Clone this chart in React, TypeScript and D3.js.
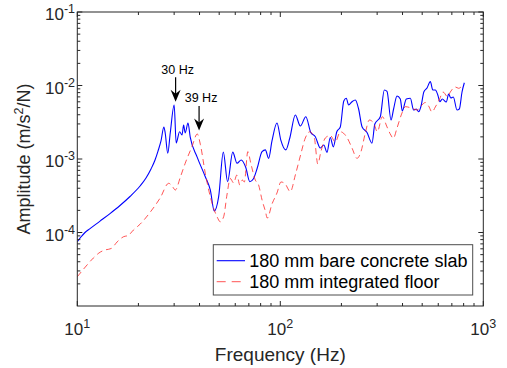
import React from "react";
import * as d3 from "d3";

const freqBlue = [10, 10.42, 10.91, 11.55, 12.94, 14.49, 16.23, 18.18, 20.37, 21.8, 23.07, 24.15, 24.98, 25.84, 26.7, 27.1, 27.9, 28.7, 30, 30.7, 31.9, 32.8, 33.4, 34.0, 35.1, 36.0, 38.9, 42.7, 45.2, 47.3, 49.7, 52.4, 55.0, 58.3, 61.2, 64.2, 67.6, 70.8, 73.6, 77.0, 81.3, 84.4, 87.6, 91.0, 96.3, 100.6, 106.4, 111.4, 118.6, 125.5, 133.6, 141.3, 148.8, 157.4, 163.8, 169.8, 176.3, 182.4, 189.8, 197.5, 205.5, 211.4, 217.0, 225.6, 234.2, 243.1, 252.7, 267.4, 282.9, 292.2, 310.9, 325.4, 335.5, 351.1, 361.5, 375.8, 390.1, 399.1, 417.6, 437.0, 453.7, 467.7, 480.1, 495.0, 509.3, 528.2, 548.3, 564.1, 580.2, 597.0, 610.7, 628.2, 657.4, 674.8, 691.8, 711.7, 742.2, 761.9, 785.6, 806.4];
const ampBlue = [7.5e-5, 8.69e-5, 1.0e-4, 1.13e-4, 1.43e-4, 1.81e-4, 2.33e-4, 3.09e-4, 4.29e-4, 5.51e-4, 7.31e-4, 9.69e-4, 1.28e-3, 1.76e-3, 2.73e-3, 2.26e-3, 1.2e-3, 2.26e-3, 5.43e-3, 1.65e-3, 2.35e-3, 2.12e-3, 2.9e-3, 2.26e-3, 3.09e-3, 1.99e-3, 1.07e-3, 5.74e-4, 3.79e-4, 1.96e-4, 3.07e-4, 1.24e-3, 4.91e-4, 1.24e-3, 8.74e-4, 9.69e-4, 7.66e-4, 4.91e-4, 5.34e-4, 7.54e-4, 1.26e-3, 1.33e-3, 1.02e-3, 1.76e-3, 3.09e-3, 1.81e-3, 1.33e-3, 1.93e-3, 3.97e-3, 2.81e-3, 3.76e-3, 2.29e-3, 2.01e-3, 1.41e-3, 1.55e-3, 1.23e-3, 1.96e-3, 1.46e-3, 2.35e-3, 2.73e-3, 6.15e-3, 6.7e-3, 5.43e-3, 6.02e-3, 6.35e-3, 4.79e-3, 2.75e-3, 2.29e-3, 1.64e-3, 2.99e-3, 3.76e-3, 8.69e-3, 8.29e-3, 3.39e-3, 4.79e-3, 7.2e-3, 6.55e-3, 4.5e-3, 6.55e-3, 6.7e-3, 4.64e-3, 4.79e-3, 4.4e-3, 5.43e-3, 8.16e-3, 9.25e-3, 1.13e-2, 8.69e-3, 8.69e-3, 7.43e-3, 6.02e-3, 6.55e-3, 5.96e-3, 7.66e-3, 6.76e-3, 6.97e-3, 4.64e-3, 4.79e-3, 8.16e-3, 1.09e-2];

const freqRed = [10, 10.95, 12.0, 13.0, 13.7, 14.7, 15.7, 16.9, 17.8, 18.9, 20.4, 22.9, 25.6, 28.2, 29.3, 30.4, 32.2, 34.0, 36.7, 39.0, 40.4, 42.7, 45.2, 48.8, 50.6, 52.6, 54.6, 56.7, 58.9, 61.1, 63.2, 65.0, 66.5, 69.2, 71.5, 75.3, 78.2, 81.3, 84.4, 86.3, 91.0, 96.3, 100.8, 105.8, 112.0, 118.6, 125.5, 132.8, 139.8, 147.1, 153.0, 158.3, 166.6, 176.3, 186.6, 197.5, 213.1, 225.6, 238.7, 249.3, 262.3, 274.5, 288.9, 300.5, 318.1, 335.5, 350.3, 360.4, 375.8, 397.7, 413.0, 445.5, 471.5, 498.9, 518.0, 537.8, 558.9, 580.2, 609.3, 633.3, 667.1, 687.9, 728.1, 755.8, 785.6];
const ampRed = [2.5e-5, 3.39e-5, 4.5e-5, 5.43e-5, 5.78e-5, 6.06e-5, 7.43e-5, 8.77e-5, 9.1e-5, 1.08e-4, 1.3e-4, 1.9e-4, 2.95e-4, 4.67e-4, 4.29e-4, 3.79e-4, 5.69e-4, 8.74e-4, 1.47e-3, 2.19e-3, 1.57e-3, 6.39e-4, 3.07e-4, 1.64e-4, 1.4e-4, 1.64e-4, 3.24e-4, 5.43e-4, 4.72e-4, 6.06e-4, 4.43e-4, 5.18e-4, 4.87e-4, 1.26e-3, 8.82e-4, 5.18e-4, 4.43e-4, 2.77e-4, 1.96e-4, 1.57e-4, 2.44e-4, 3.45e-4, 4.87e-4, 4.57e-4, 3.59e-4, 6.06e-4, 1.1e-3, 1.93e-3, 2.35e-3, 1.93e-3, 8.55e-4, 1.24e-3, 1.93e-3, 2.09e-3, 1.7e-3, 2.35e-3, 1.96e-3, 1.41e-3, 1.02e-3, 1.24e-3, 2.26e-3, 3.39e-3, 3.06e-3, 2.35e-3, 3.76e-3, 2.73e-3, 2.12e-3, 1.91e-3, 2.64e-3, 4.23e-3, 5.15e-3, 4.9e-3, 4.64e-3, 5.43e-3, 5.87e-3, 5.26e-3, 4.36e-3, 5.1e-3, 6.55e-3, 8.16e-3, 7.04e-3, 8.16e-3, 9.54e-3, 9.16e-3, 9.84e-3];

const seriesNames = ["180 mm bare concrete slab", "180 mm integrated floor"];
const xTickExps = [1, 2, 3];
const yTickExps = [-1, -2, -3, -4];
const annotationLabels = ["30 Hz", "39 Hz"];
const annotationFreqs = [30.5, 39.8];
const annotationAmps = [6.0e-3, 2.45e-3];

const W = 507, H = 368;
const L = 77.3, R = 483.3, T = 12, B = 306;
const FONT = "'Liberation Sans', Arial, Helvetica, sans-serif";
const AX = "#262626";

export default function App() {
  const x = d3.scaleLog().domain([10, 1000]).range([L, R]);
  const y = d3.scaleLog().domain([1e-5, 1e-1]).range([B, T]);

  const line = d3.line<[number, number]>().x(d => x(d[0])).y(d => y(d[1])).curve(d3.curveMonotoneX);
  const blue = line(freqBlue.map((f, i) => [f, ampBlue[i]]));
  const red = line(freqRed.map((f, i) => [f, ampRed[i]]));

  const xMinor: number[] = [];
  for (let d = 1; d < 3; d++) for (let m = 2; m <= 9; m++) xMinor.push(m * Math.pow(10, d));
  const yMinor: number[] = [];
  for (let d = -5; d < -1; d++) for (let m = 2; m <= 9; m++) yMinor.push(m * Math.pow(10, d));

  const maj = 5, mnr = 3;

  return (
    <svg width={W} height={H} style={{ position: "absolute", left: 0, top: 0, background: "#fff" }} fontFamily={FONT}>
      <rect x={0} y={0} width={W} height={H} fill="#fff" />
      <defs>
        <clipPath id="plotclip"><rect x={L} y={T} width={R - L} height={B - T} /></clipPath>
      </defs>
      <g clipPath="url(#plotclip)">
        <path d={blue || ""} fill="none" stroke="#0000ff" strokeWidth={1.1} strokeLinejoin="round" />
        <path d={red || ""} fill="none" stroke="#ff2020" strokeWidth={0.9} strokeDasharray="6,4" strokeOpacity={0.85} />
      </g>
      <rect x={L} y={T} width={R - L} height={B - T} fill="none" stroke={AX} strokeWidth={1} />
      {xTickExps.map(e => {
        const xx = x(Math.pow(10, e));
        return (
          <g key={"xt" + e}>
            <line x1={xx} x2={xx} y1={B} y2={B - maj} stroke={AX} />
            <line x1={xx} x2={xx} y1={T} y2={T + maj} stroke={AX} />
            <text x={xx} y={335} textAnchor="middle" fontSize={17} fill={AX}>
              10<tspan dy={-7} fontSize={12.5}>{e}</tspan>
            </text>
          </g>
        );
      })}
      {xMinor.map(v => (
        <g key={"xm" + v}>
          <line x1={x(v)} x2={x(v)} y1={B} y2={B - mnr} stroke={AX} />
          <line x1={x(v)} x2={x(v)} y1={T} y2={T + mnr} stroke={AX} />
        </g>
      ))}
      {yTickExps.map(e => {
        const yy = y(Math.pow(10, e));
        return (
          <g key={"yt" + e}>
            <line x1={L} x2={L + maj} y1={yy} y2={yy} stroke={AX} />
            <line x1={R} x2={R - maj} y1={yy} y2={yy} stroke={AX} />
            <text x={75} y={yy + 8} textAnchor="end" fontSize={17} fill={AX}>
              10<tspan dy={-7} fontSize={12.5}>{"-" + Math.abs(e)}</tspan>
            </text>
          </g>
        );
      })}
      {yMinor.map(v => (
        <g key={"ym" + v}>
          <line x1={L} x2={L + mnr} y1={y(v)} y2={y(v)} stroke={AX} />
          <line x1={R} x2={R - mnr} y1={y(v)} y2={y(v)} stroke={AX} />
        </g>
      ))}
      <text x={(L + R) / 2} y={361} textAnchor="middle" fontSize={19} fill={AX}>Frequency (Hz)</text>
      <text transform={`translate(30,${(T + B) / 2}) rotate(-90)`} textAnchor="middle" fontSize={18} fill={AX}>
        Amplitude (m/s<tspan dy={-7} fontSize={12.5}>2</tspan><tspan dy={7}>/N)</tspan>
      </text>
      {annotationLabels.map((lab, i) => {
        const ax = x(annotationFreqs[i]);
        const tip = y(annotationAmps[i]);
        const top = tip - 24.5;
        return (
          <g key={"an" + i}>
            <line x1={ax} x2={ax} y1={top} y2={tip - 6} stroke="#000" strokeWidth={1.2} />
            <path d={`M${ax},${tip} L${ax - 5},${tip - 12} L${ax},${tip - 8} L${ax + 5},${tip - 12} Z`} fill="#000" />
            <text x={ax + 2} y={top - 3.5} textAnchor="middle" fontSize={12.5} fill="#000">{lab}</text>
          </g>
        );
      })}
      <rect x={213.3} y={244.7} width={259.4} height={50.3} fill="#fff" stroke="#4d4d4d" strokeWidth={1} />
      <line x1={216.7} x2={245} y1={260.7} y2={260.7} stroke="#0000ff" strokeWidth={1.1} />
      <text x={249.3} y={267} fontSize={18} fill="#000">{seriesNames[0]}</text>
      <line x1={216.7} x2={245} y1={281.7} y2={281.7} stroke="#ff2020" strokeWidth={0.9} strokeDasharray="9,6" strokeOpacity={0.85} />
      <text x={249.3} y={288} fontSize={18} fill="#000">{seriesNames[1]}</text>
    </svg>
  );
}
